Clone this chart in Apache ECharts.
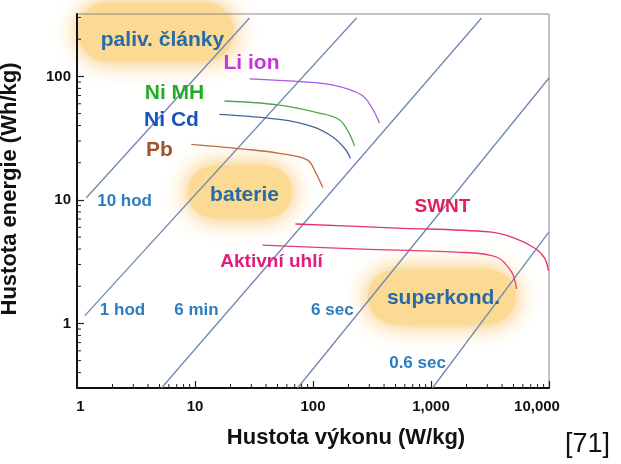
<!DOCTYPE html>
<html>
<head>
<meta charset="utf-8">
<script src="https://cdn.jsdelivr.net/npm/echarts@6/dist/echarts.min.js"></script>
<style>html,body{margin:0;padding:0;background:#fff}#c{width:621px;height:464px}</style>
</head>
<body>
<div id="c"></div>
<script>
// Axis ranges
const X_MIN = 1, X_MAX = 10000;
const Y_MIN = 0.3, Y_MAX = 320;

// Minor tick values
const xMinorTicks = [2,3,4,5,6,7,8,9,20,30,40,50,60,70,80,90,200,300,400,500,600,700,800,900,2000,3000,4000,5000,6000,7000,8000,9000];
const yMinorTicks = [0.4,0.5,0.6,0.7,0.8,0.9,2,3,4,5,6,7,8,9,20,30,40,50,60,70,80,90,200,300];

// Device curves [power W/kg, energy Wh/kg]
const liIon   = [[29,95.3],[77,90.6],[146,85.2],[258,70.7],[313,56.5],[366,41.9]];
const niMH    = [[17.8,63.2],[52,58.6],[113,50.5],[168,44.4],[204,34.1],[225,27.3]];
const niCd    = [[16.1,49.3],[52,44.8],[99,39.2],[146,32.5],[185,26.2],[208,21.7]];
const pb      = [[9.3,28.2],[27.2,25.7],[52,23.8],[90,21.0],[106,16.4],[121,12.6]];
const swnt    = [[71,6.38],[510,5.92],[3130,5.50],[5100,4.91],[7540,4.08],[9160,3.39],[9900,2.66]];
const aktivni = [[37.3,4.31],[262,4.0],[1640,3.78],[3590,3.45],[4810,2.61],[5310,1.9]];

// Constant-time lines (start, end)
const line10h  = [[1.2,10.4],[29,297]];
const line1h   = [[1.16,1.15],[234,297]];
const line6min = [[5.2,0.3],[2680,297]];
const line6s   = [[74,0.3],[10000,97]];
const line06s  = [[1030,0.3],[10000,5.5]];

// Annotation labels [power, energy, text, colour, font size]
const deviceLabels = [
  [30.1,128,'Li ion','#C536D8',21],
  [6.7,73.5,'Ni MH','#22AD27',21],
  [6.32,44.4,'Ni Cd','#1A52C0',21],
  [5.0,25.4,'Pb','#A0542B',21],
  [1250,8.76,'SWNT','#E61E58',19],
  [44.5,3.14,'Aktivní uhlí','#E31B7A',19]
];
const timeLabels = [
  [2.53,9.8,'10 hod'],
  [2.43,1.28,'1 hod'],
  [10.3,1.28,'6 min'],
  [146,1.28,'6 sec'],
  [769,0.478,'0.6 sec']
];
const groupLabels = [
  [5.3,197,'paliv. články'],
  [26.3,10.96,'baterie'],
  [1277,1.61,'superkond.']
];

const FONT = 'Liberation Sans, Arial, sans-serif';
const chart = echarts.init(document.getElementById('c'), null, {renderer:'canvas'});

function isPow10(v){ const l = Math.log10(v); return Math.abs(l - Math.round(l)) < 1e-6; }

const lineColor = '#6F88B2';
function timeLine(d){ return {type:'line', data:d, showSymbol:false, silent:true, z:3,
  lineStyle:{color:lineColor, width:1.3}}; }
function curve(d,c){ return {type:'line', data:d, smooth:0.35, showSymbol:false, z:4,
  lineStyle:{color:c, width:1.3}}; }
function labelSeries(arr, styler){
  return {type:'scatter', symbolSize:0, z:6, silent:true, itemStyle:{opacity:1},
    data: arr.map(a => ({value:[a[0],a[1]], name:a[2], label: styler(a)})),
    label:{show:true, position:'inside', formatter: p => p.name}};
}
function blob(x,y,w,h){
  return {type:'rect', z:-10, silent:true, shape:{x:x,y:y,width:w,height:h,r:Math.min(w,h)/2},
    style:{fill:'#FBDA94', shadowBlur:24, shadowColor:'#F6BA4E'}};
}

const option = {
  backgroundColor:'#fff',
  animation:false,
  grid:{left:77, right:72, top:14, bottom:76, outerBoundsMode:'none', containLabel:false,
    show:true, borderColor:'#8a8a8a', borderWidth:1, backgroundColor:'transparent'},
  xAxis:{type:'log', logBase:10, min:X_MIN, max:X_MAX,
    name:'Hustota výkonu (W/kg)', nameLocation:'middle', nameGap:39,
    nameTextStyle:{fontFamily:FONT, fontWeight:'bold', fontSize:22, color:'#111', padding:[0,0,0,66]},
    axisLine:{show:true, lineStyle:{color:'#111', width:2}},
    axisTick:{show:true, inside:true, length:7, lineStyle:{color:'#222', width:1.2}},
    splitLine:{show:false}, minorTick:{show:false},
    axisLabel:{fontFamily:FONT, fontWeight:'bold', fontSize:15, color:'#111', margin:11,
      showMinLabel:true, showMaxLabel:true,
      formatter: v => { if(!isPow10(v)) return ''; const r=Math.round(v);
        const s = r.toLocaleString('en-US'); return r===10000 ? '{m|'+s+'}' : (r===1 ? '{o|1}' : s); },
      rich:{m:{fontFamily:FONT, fontWeight:'bold', fontSize:15, color:'#111', padding:[0,24,0,0]},
            o:{fontFamily:FONT, fontWeight:'bold', fontSize:15, color:'#111', padding:[0,0,0,7]}}}
  },
  yAxis:{type:'log', logBase:10, min:Y_MIN, max:Y_MAX,
    name:'Hustota energie (Wh/kg)', nameLocation:'middle', nameGap:56, nameRotate:90,
    nameTextStyle:{fontFamily:FONT, fontWeight:'bold', fontSize:22, color:'#111', padding:[0,0,0,24]},
    axisLine:{show:true, lineStyle:{color:'#111', width:2}},
    axisTick:{show:true, inside:true, length:7, lineStyle:{color:'#222', width:1.2}},
    splitLine:{show:false},
    axisLabel:{fontFamily:FONT, fontWeight:'bold', fontSize:15, color:'#111', margin:6,
      showMinLabel:false, showMaxLabel:false,
      formatter: v => isPow10(v) ? String(Math.round(v)) : ''}
  },
  graphic:[
    blob(78,3,156,58),
    blob(188,166,104,52),
    blob(368,270,148,54),
    {type:'text', left:565, top:431, z:10, style:{text:'[71]', fontFamily:FONT, fontSize:27, fill:'#111'}}
  ],
  series:[
    {type:'custom', z:5, silent:true, clip:false,
      data: xMinorTicks.map(v => [v, Y_MIN]),
      renderItem:(params, api) => { const p = api.coord([api.value(0), api.value(1)]);
        return {type:'line', shape:{x1:p[0], y1:p[1], x2:p[0], y2:p[1]-4}, style:{stroke:'#222', lineWidth:1}}; }},
    {type:'custom', z:5, silent:true, clip:false,
      data: yMinorTicks.map(v => [X_MIN, v]),
      renderItem:(params, api) => { const p = api.coord([api.value(0), api.value(1)]);
        return {type:'line', shape:{x1:p[0], y1:p[1], x2:p[0]+4, y2:p[1]}, style:{stroke:'#222', lineWidth:1}}; }},
    timeLine(line10h), timeLine(line1h), timeLine(line6min), timeLine(line6s), timeLine(line06s),
    curve(liIon,'#A65AE8'), curve(niMH,'#4FA847'), curve(niCd,'#47679C'), curve(pb,'#BF6A48'),
    curve(swnt,'#E6356C'), curve(aktivni,'#E23C7E'),
    labelSeries(deviceLabels, a => ({color:a[3], fontFamily:FONT, fontWeight:'bold', fontSize:a[4]})),
    labelSeries(timeLabels, a => ({color:'#2B7CC1', fontFamily:FONT, fontWeight:'bold', fontSize:17})),
    labelSeries(groupLabels, a => ({color:'#286AA6', fontFamily:FONT, fontWeight:'bold', fontSize:21}))
  ]
};
chart.setOption(option);
</script>
</body>
</html>
